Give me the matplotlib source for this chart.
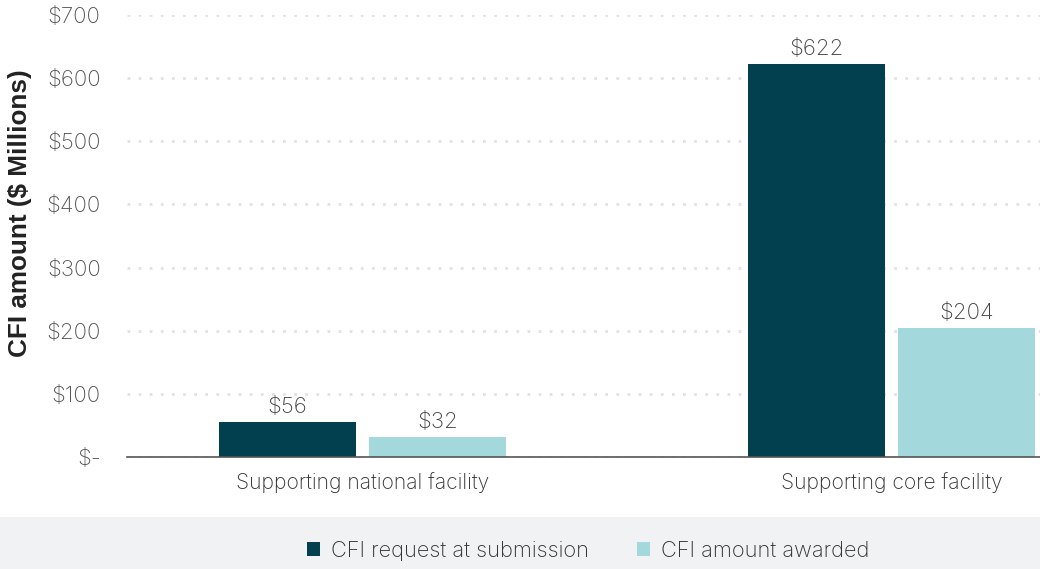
import matplotlib.pyplot as plt
from matplotlib.patches import Rectangle, Patch
from matplotlib.ticker import FuncFormatter

categories = ['Supporting national facility', 'Supporting core facility']
requested = [56, 622]
awarded = [32, 204]
series = ['CFI request at submission', 'CFI amount awarded']
colors = ['#023f4f', '#a3d9dc']

plt.rcParams['font.family'] = ['Inter', 'DejaVu Sans']
plt.rcParams['font.weight'] = 'light'

fig = plt.figure(figsize=(10.4, 5.69), dpi=100)
ax = fig.add_axes([127 / 1040, 1 - 457 / 569, (1040 - 127) / 1040, (457 - 15) / 569])

x = range(len(categories))
w = 0.259
off = 0.142
b1 = ax.bar([i - off for i in x], requested, w, color=colors[0], zorder=3)
b2 = ax.bar([i + off for i in x], awarded, w, color=colors[1], zorder=3)
for bars in (b1, b2):
    for r in bars:
        ax.text(r.get_x() + r.get_width() / 2, r.get_height() + 8, f'${r.get_height():.0f}',
                ha='center', va='bottom', fontsize=16, color='#444444')

ax.set_xlim(-0.445, 1.281)
ax.set_ylim(0, 700)
ax.set_yticks(range(0, 701, 100))
ax.yaxis.set_major_formatter(FuncFormatter(lambda v, p: '$-' if v == 0 else f'${v:.0f}'))
ax.set_xticks(list(x))
ax.set_xticklabels(categories)
ax.tick_params(axis='y', length=0, labelsize=16, colors='#555555', pad=19)
ax.tick_params(axis='x', length=0, labelsize=15.2, colors='#333333', pad=11)
ax.yaxis.grid(True, linestyle=(0, (1, 3)), color='#e2e2e2', linewidth=2, zorder=0)
for s in ['top', 'right', 'left']:
    ax.spines[s].set_visible(False)
ax.spines['bottom'].set_color('#555555')
ax.spines['bottom'].set_linewidth(1.2)
ax.spines['bottom'].set_zorder(4)

fig.text(20 / 1040, 1 - 213 / 569, 'CFI amount ($ Millions)', rotation=90, ha='center', va='center',
         fontsize=18.8, fontweight='bold', color='#222222', family=['Liberation Sans', 'DejaVu Sans'])

fig.patches.append(Rectangle((0, 0), 1, (569 - 517) / 569, transform=fig.transFigure,
                             facecolor='#f1f2f4', edgecolor='none', zorder=0))
handles = [Patch(facecolor=c, edgecolor='none') for c in colors]
fig.legend(handles, series, loc='center', bbox_to_anchor=(0.5655, 1 - 551 / 569), ncol=2,
           frameon=False, fontsize=15.7, handlelength=0.6, handleheight=0.6, handletextpad=0.5,
           columnspacing=2.2, labelcolor='#333333')

fig.savefig('out.png', dpi=100)
